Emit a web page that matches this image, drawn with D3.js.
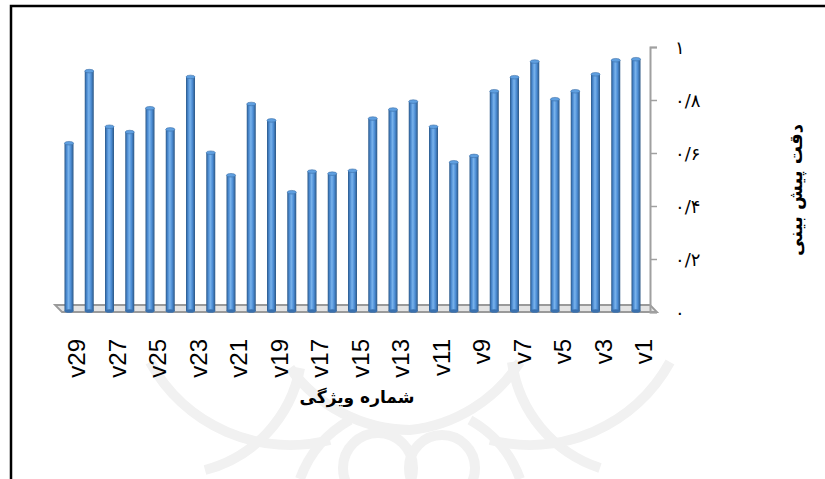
<!DOCTYPE html>
<html>
<head>
<meta charset="utf-8">
<script src="https://cdn.jsdelivr.net/npm/d3@7"></script>
<style>
  body { margin: 0; background: #fff; }
  svg { display: block; }
  .fa { font-family: "DejaVu Sans", sans-serif; }
</style>
</head>
<body>
<svg width="825" height="479"></svg>
<script>
// data, left to right as in the picture (v29 ... v1)
const features = ['v29','v28','v27','v26','v25','v24','v23','v22','v21','v20','v19','v18','v17','v16','v15',
                  'v14','v13','v12','v11','v10','v9','v8','v7','v6','v5','v4','v3','v2','v1'];
const accuracy = [0.637,0.909,0.699,0.679,0.769,0.689,0.887,0.601,0.516,0.785,0.723,0.452,0.530,0.522,0.533,
                  0.730,0.764,0.794,0.699,0.565,0.589,0.833,0.886,0.945,0.803,0.833,0.897,0.950,0.954];
const yTicks = [0, 0.2, 0.4, 0.6, 0.8, 1];
const shownLabels = ['v29','v27','v25','v23','v21','v19','v17','v15','v13','v11','v9','v7','v5','v3','v1'];
const xTitle = 'شماره ویژگی';
const yTitle = 'دقت پیش بینی';

const svg = d3.select('svg');
const width = +svg.attr('width');
const height = +svg.attr('height');

const data = features.map((f, i) => ({ name: f, value: accuracy[i] }));

const axisX = 650;
const barW = 9;

const xScale = d3.scalePoint()
    .domain(features)
    .range([69, 636]);

const yScale = d3.scaleLinear()
    .domain([0, 1])
    .range([312, 47]);

const toFa = s => String(s).replace(/[0-9]/g, c => '۰۱۲۳۴۵۶۷۸۹'[+c]);
const fmt = d => d === 0 ? '۰' : d === 1 ? '۱' : '۰/' + toFa(Math.round(d * 10));

// watermark (faint logo in the background)
const wm = svg.append('g')
    .attr('fill', 'none')
    .attr('stroke', '#f1f1f1')
    .attr('stroke-width', 10);
wm.append('circle').attr('cx', 378).attr('cy', 468).attr('r', 35);
wm.append('circle').attr('cx', 442).attr('cy', 468).attr('r', 33);
wm.append('path').attr('d', 'M290,368 A150,150 0 0,0 410,430 A150,150 0 0,0 520,362');
wm.append('path').attr('d', 'M205,470 A130,130 0 0,0 300,368');
wm.append('path').attr('d', 'M600,468 A130,130 0 0,1 512,362');
wm.append('path').attr('d', 'M150,362 A160,160 0 0,0 330,440');
wm.append('path').attr('d', 'M670,362 A160,160 0 0,1 490,440');
wm.append('path').attr('d', 'M300,479 A110,110 0 0,1 350,420');
wm.append('path').attr('d', 'M520,479 A110,110 0 0,0 470,420');

// frame
svg.append('path')
    .attr('d', `M11,${height} L11,6 L${width},6`)
    .attr('fill', 'none')
    .attr('stroke', '#000')
    .attr('stroke-width', 2.5);

// cylinder gradient
const defs = svg.append('defs');
const grad = defs.append('linearGradient')
    .attr('id', 'cyl')
    .attr('x1', '0%').attr('x2', '100%')
    .attr('y1', '0%').attr('y2', '0%');
[['0%', '#2a5787'], ['22%', '#4a89cf'], ['45%', '#79b3ec'], ['70%', '#4d8ed6'], ['100%', '#2b5684']]
    .forEach(([o, c]) => grad.append('stop').attr('offset', o).attr('stop-color', c));

// floor
const left = xScale.range()[0] - 14;
svg.append('polygon')
    .attr('points', `${left},305 ${axisX},305 ${axisX + 7},312 ${left + 7},312`)
    .attr('fill', '#e4e4e4')
    .attr('stroke', '#9a9a9a')
    .attr('stroke-width', 1.8);

// y axis on the right
const gy = svg.append('g')
    .attr('transform', `translate(${axisX},0)`)
    .call(d3.axisRight(yScale).tickValues(yTicks).tickSize(7).tickSizeOuter(7).tickPadding(18).tickFormat(fmt));
gy.select('.domain').attr('stroke', '#a0a0a0').attr('stroke-width', 2);
gy.selectAll('.tick line').attr('stroke', '#a0a0a0').attr('stroke-width', 1.5);
gy.selectAll('.tick text')
    .attr('class', 'fa')
    .attr('fill', '#000')
    .style('font-size', '18px')
    .attr('dy', '0.35em');

// bars
const bars = svg.append('g');
bars.selectAll('rect')
    .data(data)
    .enter()
    .append('rect')
    .attr('x', d => xScale(d.name) - barW / 2)
    .attr('y', d => yScale(d.value))
    .attr('width', barW)
    .attr('height', d => yScale(0) - 1 - yScale(d.value))
    .attr('fill', 'url(#cyl)');
bars.selectAll('ellipse.bottom')
    .data(data)
    .enter()
    .append('ellipse')
    .attr('class', 'bottom')
    .attr('cx', d => xScale(d.name))
    .attr('cy', yScale(0) - 1)
    .attr('rx', barW / 2)
    .attr('ry', 1.8)
    .attr('fill', '#3a70ad');
bars.selectAll('ellipse.top')
    .data(data)
    .enter()
    .append('ellipse')
    .attr('class', 'top')
    .attr('cx', d => xScale(d.name))
    .attr('cy', d => yScale(d.value))
    .attr('rx', barW / 2)
    .attr('ry', 1.8)
    .attr('fill', '#5f9fe0')
    .attr('stroke', '#3b6fa8')
    .attr('stroke-width', 0.6);

// x labels, rotated
svg.append('g').selectAll('text')
    .data(shownLabels)
    .enter()
    .append('text')
    .attr('transform', d => `translate(${xScale(d) + 16},339) rotate(-90)`)
    .attr('text-anchor', 'end')
    .style('font-family', '"Liberation Sans", Arial, sans-serif')
    .style('font-size', '24px')
    .attr('fill', '#000')
    .text(d => d);

// axis titles
svg.append('text')
    .attr('class', 'fa')
    .attr('x', 357)
    .attr('y', 403)
    .attr('text-anchor', 'middle')
    .style('font-size', '17px')
    .style('font-weight', 'bold')
    .text(xTitle);

svg.append('text')
    .attr('class', 'fa')
    .attr('transform', 'translate(802,190) rotate(-90)')
    .attr('text-anchor', 'middle')
    .style('font-size', '18px')
    .style('font-weight', 'bold')
    .text(yTitle);
</script>
</body>
</html>
